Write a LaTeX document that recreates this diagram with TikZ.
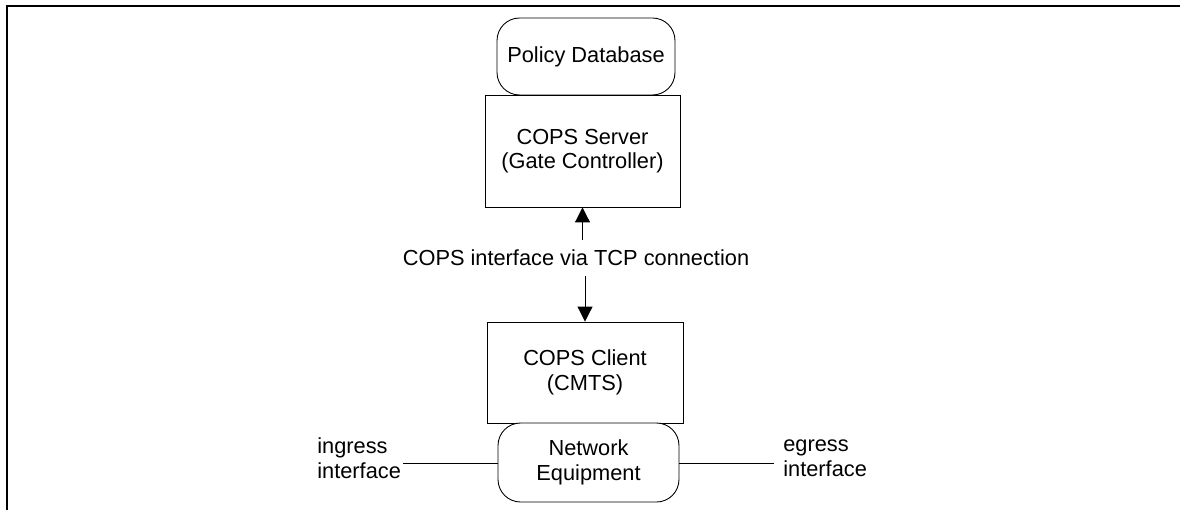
\documentclass[tikz,border=0pt]{standalone}
\usepackage{fontspec}
\setmainfont{Liberation Sans}
\usetikzlibrary{arrows.meta}
\usetikzlibrary{calc}

\begin{document}
\begin{tikzpicture}[x=0.02cm, y=-0.02cm,
    every node/.style={font=\fontsize{12.4pt}{14pt}\selectfont, align=center},
    box/.style={draw, line width=0.5pt, inner sep=0pt},
    rbox/.style={box, rounded corners=0.45cm, fill=white},
    tip/.style={line width=0.5pt, -{Triangle[width=0.3cm, length=0.3cm]}}]
      \useasboundingbox (0,0) rectangle (1180,510);
      \draw[line width=1.4pt] (7,510) -- (7,6) -- (1180,6);

      \node[rbox, minimum width=3.56cm, minimum height=1.54cm] (db) at (586,56.5) {Policy Database};
      \node[box, minimum width=3.9cm, minimum height=2.24cm] (server) at (582.5,151) {COPS Server\\(Gate Controller)};
      \node[box, minimum width=3.92cm, minimum height=2.02cm] (client) at (585,372.5) {COPS Client\\(CMTS)};
      \node[rbox, minimum width=3.62cm, minimum height=1.58cm] (ne) at (588.5,462.5) {Network\\Equipment};

      \node[text depth=0pt, inner ysep=0.2cm] (lbl) at (576,258) {COPS interface via TCP connection};
      \draw[tip] (server.south |- lbl.north) -- (server.south);
      \draw[tip] (client.north |- lbl.south) -- (client.north);

      \node[anchor=west, align=left, inner sep=0pt] (in) at (317,458.5) {ingress\\interface};
      \node[anchor=west, align=left, inner sep=0pt] (out) at (783,458.5) {egress\\interface};
      \coordinate (inend) at (403,463);
      \coordinate (outend) at (774,463);
      \draw[line width=0.5pt] (inend) -- (inend -| ne.west);
      \draw[line width=0.5pt] (ne.east |- outend) -- (outend);
    \end{tikzpicture}
\end{document}
